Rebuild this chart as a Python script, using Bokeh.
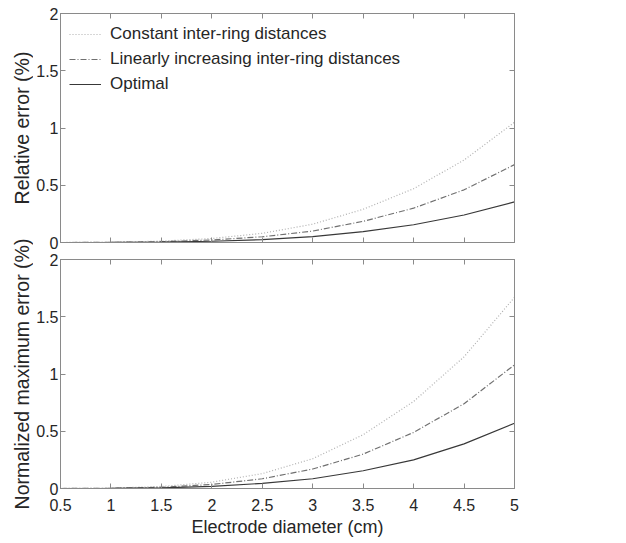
import math
from bokeh.plotting import figure
from bokeh.layouts import column, row
from bokeh.models import LinearAxis, Range1d, FixedTicker, Legend, LegendItem, CustomLabelingPolicy
from bokeh.core.properties import value
from bokeh.embed import file_html
from bokeh.resources import INLINE

# ---- data ----
diameter = [0.5, 1.0, 1.5, 2.0, 2.5, 3.0, 3.5, 4.0, 4.5, 5.0]

rel_constant = [0.0, 0.002, 0.012, 0.035, 0.08, 0.16, 0.29, 0.47, 0.72, 1.05]
rel_linear = [0.0, 0.001, 0.007, 0.022, 0.05, 0.10, 0.185, 0.30, 0.46, 0.68]
rel_optimal = [0.0, 0.0005, 0.004, 0.011, 0.025, 0.052, 0.095, 0.155, 0.24, 0.355]

max_constant = [0.0, 0.003, 0.018, 0.055, 0.13, 0.26, 0.47, 0.76, 1.15, 1.67]
max_linear = [0.0, 0.002, 0.011, 0.035, 0.085, 0.17, 0.30, 0.49, 0.74, 1.08]
max_optimal = [0.0, 0.001, 0.006, 0.018, 0.045, 0.085, 0.155, 0.25, 0.39, 0.57]

x_ticks = [0.5, 1, 1.5, 2, 2.5, 3, 3.5, 4, 4.5, 5]
y_ticks = [0, 0.5, 1, 1.5, 2]

series_names = ["Constant inter-ring distances",
                "Linearly increasing inter-ring distances",
                "Optimal"]
y_labels = ["Relative error (%)", "Normalized maximum error (%)"]
x_label = "Electrode diameter (cm)"

FONT = "Liberation Sans"
AXIS_COLOR = "#8a8a8a"
TEXT_COLOR = "#262626"
STYLES = [
    dict(line_color="#b0b0b0", line_dash="1 2", line_width=1.2),
    dict(line_color="#707070", line_dash="6 2 1 2", line_width=1.2),
    dict(line_color="#383838", line_dash="solid", line_width=1.2),
]

# layout (pixels)
FRAME_W, FRAME_H = 454, 229
TOP1, GAP1, GAP2 = 13, 8, 9
LABEL_W = 33
TOTAL_H = 540

HIDE_ALL = """
for (const i of indices)
    indices.unset(i)
"""


def style_axis(ax, labels=True):
    ax.axis_line_color = AXIS_COLOR
    ax.major_tick_line_color = AXIS_COLOR
    ax.minor_tick_line_color = None
    ax.major_tick_in = 5
    ax.major_tick_out = 0
    ax.major_label_text_font = FONT
    ax.major_label_text_color = TEXT_COLOR
    ax.major_label_text_font_size = "16px"
    ax.major_label_standoff = 2
    if not labels:
        ax.major_label_policy = CustomLabelingPolicy(code=HIDE_ALL)
        ax.major_label_text_font_size = "0px"
        ax.major_label_standoff = 0
    ax.axis_label_text_font = FONT
    ax.axis_label_text_font_style = "normal"
    ax.axis_label_text_color = TEXT_COLOR
    ax.axis_label_text_font_size = "18px"


def make_fig(ys, xlabel, top_border, bottom_border, show_xlabels, legend):
    p = figure(frame_width=FRAME_W, frame_height=FRAME_H, output_backend="svg",
               toolbar_location=None, x_range=Range1d(0.5, 5),
               y_range=Range1d(0, 2), min_border_left=23,
               min_border_top=top_border, min_border_bottom=bottom_border,
               min_border_right=22, background_fill_color="white",
               border_fill_color="white")
    p.outline_line_color = AXIS_COLOR
    p.grid.visible = False
    p.xaxis.ticker = FixedTicker(ticks=x_ticks)
    p.yaxis.ticker = FixedTicker(ticks=y_ticks)
    p.xaxis.major_label_overrides = {0.5: "0.5", 1: "1", 1.5: "1.5", 2: "2", 2.5: "2.5",
                                     3: "3", 3.5: "3.5", 4: "4", 4.5: "4.5", 5: "5"}
    p.yaxis.major_label_overrides = {0: "0", 0.5: "0.5", 1: "1", 1.5: "1.5", 2: "2"}
    style_axis(p.xaxis[0], labels=show_xlabels)
    style_axis(p.yaxis[0])
    if xlabel:
        p.xaxis.axis_label = xlabel
        p.xaxis.major_label_standoff = 10
        p.xaxis.axis_label_standoff = 3
    top = LinearAxis(ticker=FixedTicker(ticks=x_ticks))
    style_axis(top, labels=False)
    p.add_layout(top, "above")
    right = LinearAxis(ticker=FixedTicker(ticks=y_ticks))
    style_axis(right, labels=False)
    p.add_layout(right, "right")

    renderers = []
    for y, st in zip(ys, STYLES):
        r = p.line(diameter, y, **st)
        renderers.append(r)
    if legend:
        leg = Legend(items=[LegendItem(label=n, renderers=[r]) for n, r in zip(series_names, renderers)],
                     location="top_left", border_line_color=None,
                     background_fill_alpha=0, label_text_font=FONT,
                     label_text_font_size="17px", label_text_color=TEXT_COLOR,
                     glyph_width=32, glyph_height=24, label_height=24,
                     label_standoff=9, spacing=1, padding=2, margin=9)
        p.add_layout(leg, "center")
    return p


p1 = make_fig([rel_constant, rel_linear, rel_optimal], None, TOP1, GAP1, False, True)
p2 = make_fig([max_constant, max_linear, max_optimal], x_label, GAP2, 0, True, False)

# y-axis titles in a narrow strip so the long lower title may extend upward like the original
centre1 = TOP1 + FRAME_H / 2
centre2 = TOP1 + FRAME_H + GAP1 + GAP2 + FRAME_H / 2
lab = figure(frame_width=LABEL_W, frame_height=TOTAL_H, output_backend="svg",
             toolbar_location=None, x_range=Range1d(0, LABEL_W), y_range=Range1d(TOTAL_H, 0),
             x_axis_type=None, y_axis_type=None, min_border=0,
             background_fill_color="white", border_fill_color="white")
lab.outline_line_color = None
lab.grid.visible = False
lab.text(x=[21, 21], y=[centre1, centre2], text=y_labels, angle=math.pi / 2,
         text_align="center", text_baseline="middle", text_font=value(FONT),
         text_font_size=value("19.5px"), text_color=TEXT_COLOR)

layout = row(lab, column(p1, p2, spacing=0), spacing=0)
open("out.html", "w").write(file_html(layout, INLINE))
